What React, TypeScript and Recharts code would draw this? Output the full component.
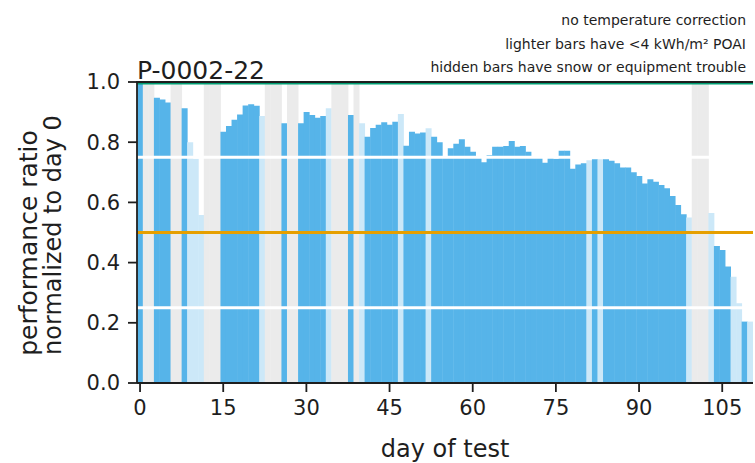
import { BarChart, Bar, XAxis, YAxis, ReferenceLine, Cell } from 'recharts';

// performance ratio for each day of test, normalized to day 0
// null = hidden day (snow or equipment trouble)
const ratio: (number | null)[] = [
  1.0, null, null, 0.948, 0.942, 0.932, null, null, 0.913, 0.8,
  0.745, 0.558, null, null, null, 0.835, 0.854, 0.875, 0.892, 0.922,
  0.926, 0.921, 0.887, null, null, null, 0.863, null, null, 0.863,
  0.9, 0.89, 0.881, 0.887, 0.913, null, null, null, 0.89, null,
  0.863, 0.818, 0.847, 0.858, 0.866, 0.858, 0.868, 0.894, 0.788, 0.835,
  0.829, 0.832, 0.846, 0.818, 0.8, 0.752, 0.78, 0.795, 0.81, 0.785,
  0.768, 0.75, 0.733, 0.757, 0.785, 0.785, 0.787, 0.804, 0.785, 0.787,
  0.768, 0.75, 0.75, 0.732, 0.75, 0.745, 0.772, 0.772, 0.712, 0.726,
  0.73, 0.74, 0.743, 0.743, 0.743, 0.738, 0.73, 0.716, 0.716, 0.7,
  0.688, 0.663, 0.677, 0.669, 0.658, 0.647, 0.621, 0.591, 0.561, 0.55,
  null, null, null, 0.565, 0.455, 0.442, 0.387, 0.353, 0.265, 0.204,
  0.204,
];

// days with < 4 kWh/m2 POAI (lighter bars)
const lowLightDays = [9, 10, 11, 22, 34, 40, 47, 52, 81, 83, 99, 103, 107, 108, 110];

const xTicks = [0, 15, 30, 45, 60, 75, 90, 105];
const yTicks = [0, 0.2, 0.4, 0.6, 0.8, 1.0];

const notes = [
  'no temperature correction',
  'lighter bars have <4 kWh/m² POAI',
  'hidden bars have snow or equipment trouble',
];

const BLUE = '#56B4E9';
const LIGHT = '#CCE8F8';
const HIDDEN = '#EBEBEB';
const INK = '#1e1e1e';
const FONT = '"DejaVu Sans", sans-serif';

const rows = ratio.map((r, day) => ({
  day,
  bar: r ?? 1,
  fill: r === null ? HIDDEN : lowLightDays.includes(day) ? LIGHT : BLUE,
}));

// black top spine with the green 1.0 line just under it
const TopLine = (props: any) => (
  <g>
    <line x1={props.x1} x2={props.x2} y1={props.y1 + 1.6} y2={props.y2 + 1.6} stroke="#009E73" strokeWidth={2} />
    <line x1={props.x1 - 1} x2={props.x2} y1={props.y1} y2={props.y2} stroke={INK} strokeWidth={1.8} />
  </g>
);

export default function App() {
  return (
    <div style={{ position: 'absolute', left: 0, top: 0, width: 755, height: 463, fontFamily: FONT, background: '#fff' }}>
      <BarChart
        width={755}
        height={463}
        data={rows}
        margin={{ top: 82, right: 2, bottom: 0, left: 0 }}
        barCategoryGap={0}
        barGap={0}
      >
        <XAxis
          dataKey="day"
          type="number"
          domain={[-0.55, 110.55]}
          ticks={xTicks}
          interval={0}
          allowDataOverflow
          height={80}
          tickSize={9}
          tickMargin={8}
          axisLine={{ stroke: INK, strokeWidth: 1.8 }}
          tickLine={{ stroke: INK, strokeWidth: 1.8 }}
          tick={{ fill: INK, fontSize: 21, fontFamily: FONT }}
        />
        <YAxis
          type="number"
          domain={[0, 1]}
          ticks={yTicks}
          interval={0}
          width={137}
          tickSize={9}
          tickMargin={8}
          tickFormatter={(v: number) => v.toFixed(1)}
          axisLine={{ stroke: INK, strokeWidth: 1.8 }}
          tickLine={{ stroke: INK, strokeWidth: 1.8 }}
          tick={{ fill: INK, fontSize: 21, fontFamily: FONT }}
        />
        <Bar dataKey="bar" isAnimationActive={false}>
          {rows.map((r) => (
            <Cell key={r.day} fill={r.fill} />
          ))}
        </Bar>
        <ReferenceLine y={0.25} stroke="#ffffff" strokeWidth={3} />
        <ReferenceLine y={0.75} stroke="#ffffff" strokeWidth={3} />
        <ReferenceLine y={0.5} stroke="#E69F00" strokeWidth={3} />
        <ReferenceLine y={1} shape={TopLine} />
      </BarChart>
      <svg width={755} height={463} style={{ position: 'absolute', left: 0, top: 0, pointerEvents: 'none' }}>
        <g fontFamily={FONT} fill={INK}>
          <text x={137} y={79} fontSize={25}>P-0002-22</text>
          {notes.map((n, i) => (
            <text key={n} x={746} y={25 + i * 23.5} fontSize={14} textAnchor="end">{n}</text>
          ))}
          <text transform="translate(28,243) rotate(-90)" fontSize={25} textAnchor="middle" dominantBaseline="central">
            performance ratio
          </text>
          <text transform="translate(53,235) rotate(-90)" fontSize={24} textAnchor="middle" dominantBaseline="central">
            normalized to day 0
          </text>
          <text x={445} y={457} fontSize={24} textAnchor="middle">day of test</text>
        </g>
      </svg>
    </div>
  );
}
